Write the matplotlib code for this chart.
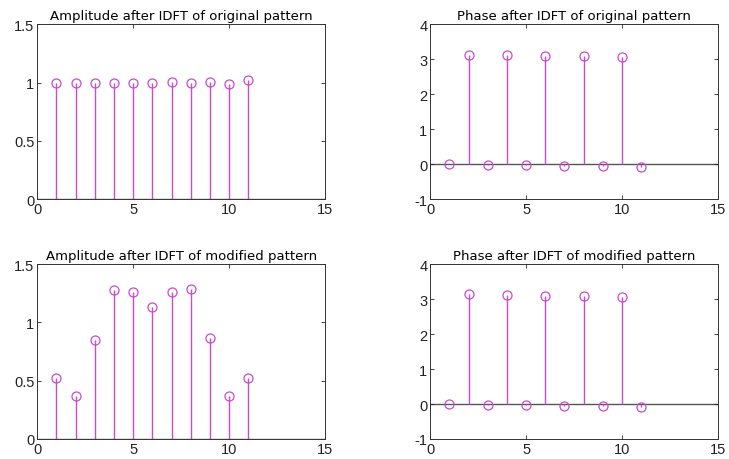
import numpy as np
import matplotlib
matplotlib.use("Agg")
import matplotlib.pyplot as plt

plt.rcParams['font.family'] = ['Liberation Sans', 'DejaVu Sans']

n = [1, 2, 3, 4, 5, 6, 7, 8, 9, 10, 11]

amp_original = [1.0, 1.0, 1.0, 0.995, 1.0, 0.995, 1.006, 0.995, 1.006, 0.986, 1.02]
phase_original = [0.0, 3.13, -0.02, 3.11, -0.03, 3.10, -0.05, 3.09, -0.06, 3.07, -0.08]
amp_modified = [0.52, 0.37, 0.85, 1.28, 1.265, 1.13, 1.26, 1.285, 0.87, 0.37, 0.52]
phase_modified = [0.0, 3.14, -0.02, 3.12, -0.03, 3.10, -0.05, 3.08, -0.06, 3.07, -0.08]

titles = [
    "Amplitude after IDFT of original pattern",
    "Phase after IDFT of original pattern",
    "Amplitude after IDFT of modified pattern",
    "Phase after IDFT of modified pattern",
]
series = [amp_original, phase_original, amp_modified, phase_modified]
ylims = [(0, 1.5), (-1, 4), (0, 1.5), (-1, 4)]
yticks = [[0, 0.5, 1, 1.5], [-1, 0, 1, 2, 3, 4], [0, 0.5, 1, 1.5], [-1, 0, 1, 2, 3, 4]]
ytick_labels = [["0", "0.5", "1", "1.5"], ["-1", "0", "1", "2", "3", "4"],
                ["0", "0.5", "1", "1.5"], ["-1", "0", "1", "2", "3", "4"]]
xticks = [0, 5, 10, 15]

stem_color = "#c84ccc"

fig = plt.figure(figsize=(7.29, 4.6), dpi=100)
positions = [
    [0.051, 0.565, 0.395, 0.380],
    [0.590, 0.565, 0.395, 0.380],
    [0.051, 0.0435, 0.395, 0.380],
    [0.590, 0.0435, 0.395, 0.380],
]

for pos, title, vals, ylim, yt, ytl in zip(positions, titles, series, ylims, yticks, ytick_labels):
    ax = fig.add_axes(pos)
    ax.axhline(0, color="#555555", lw=1.0, zorder=1)
    ml, sl, bl = ax.stem(n, vals, basefmt=" ")
    plt.setp(sl, color=stem_color, lw=1.0)
    plt.setp(ml, marker="o", markerfacecolor="none", markeredgecolor=stem_color,
             markersize=6.5, markeredgewidth=0.9)
    ax.set_xlim(0, 15)
    ax.set_ylim(*ylim)
    ax.set_xticks(xticks)
    ax.set_yticks(yt)
    ax.set_yticklabels(ytl)
    ax.set_title(title, fontsize=9.5, family="DejaVu Sans", pad=4)
    ax.tick_params(direction="in", length=3, width=0.6, labelsize=10.5,
                   top=True, right=True, pad=2, colors="#222222")
    for s in ax.spines.values():
        s.set_linewidth(0.7)
        s.set_color("#333333")

fig.savefig("out.png", dpi=100)
